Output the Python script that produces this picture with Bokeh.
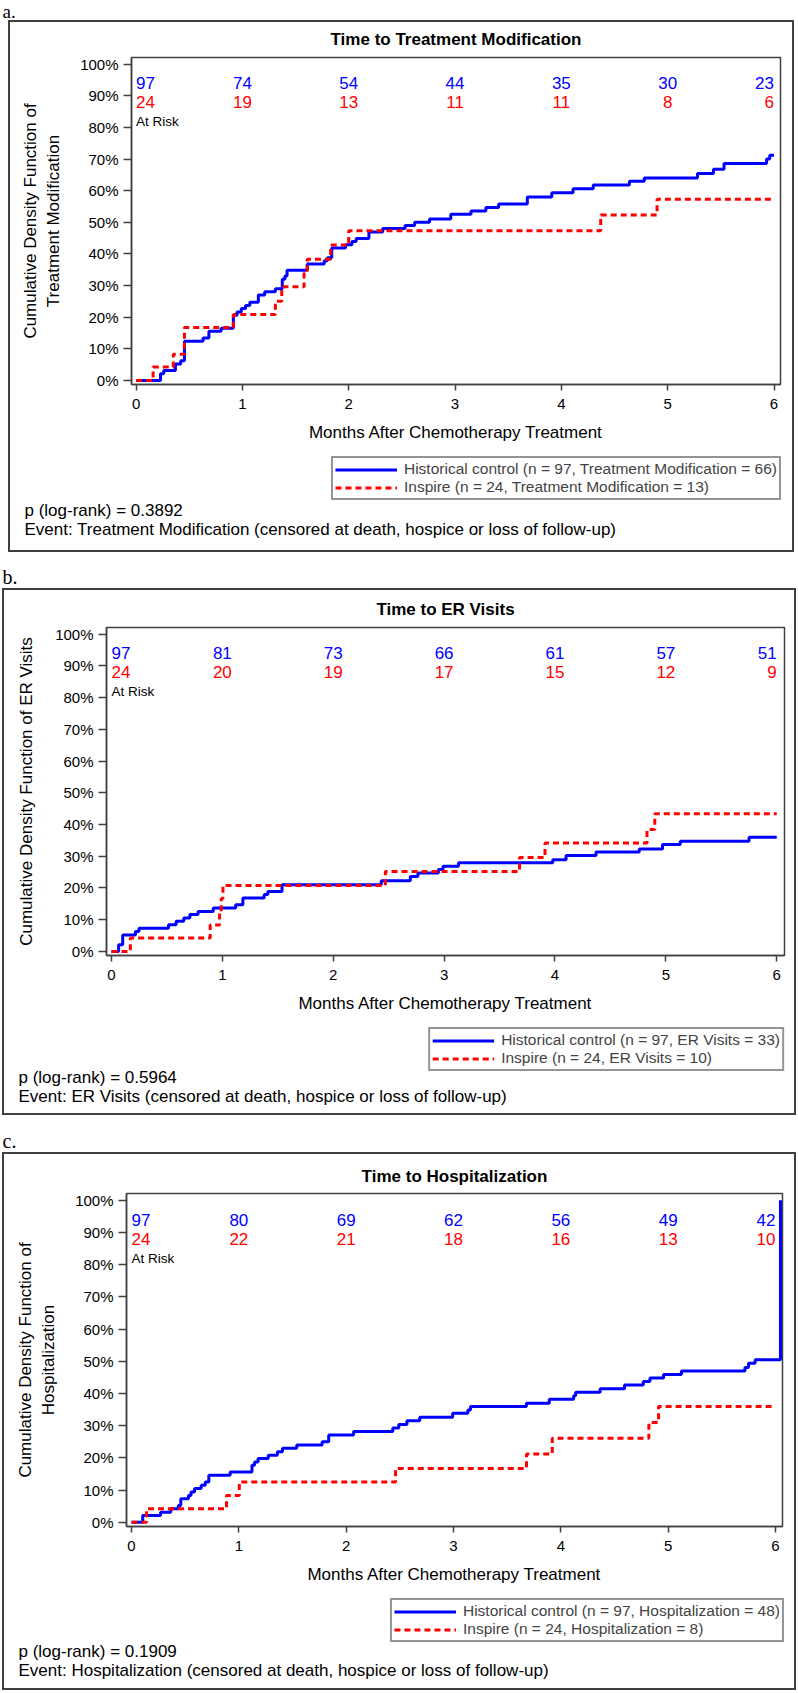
from bokeh.plotting import figure
from bokeh.layouts import column
from bokeh.models import Range1d, FixedTicker, NumeralTickFormatter, Label, Legend, LegendItem
from bokeh.core.properties import value
from bokeh.embed import file_html
from bokeh.resources import INLINE

# ---------------------------------------------------------------- ticks
month_ticks = [0, 1, 2, 3, 4, 5, 6]
pct_ticks = [0.0, 0.1, 0.2, 0.3, 0.4, 0.5, 0.6, 0.7, 0.8, 0.9, 1.0]

# ---------------------------------------------------------------- a. treatment modification
tm_hist_t = [0.23, 0.26, 0.37, 0.42, 0.455, 0.63, 0.685, 0.80, 0.915, 0.95,
             0.99, 1.03, 1.07, 1.15, 1.21, 1.31, 1.375, 1.40, 1.42, 1.61,
             1.77, 1.80, 1.84, 1.97, 2.03, 2.07, 2.19, 2.32, 2.53, 2.62,
             2.76, 2.96, 3.15, 3.29, 3.41, 3.68, 3.91, 4.11, 4.30, 4.64,
             4.78, 5.28, 5.43, 5.53, 5.93, 5.96]
tm_hist_cdf = [0.021, 0.031, 0.052, 0.062, 0.124, 0.134, 0.155, 0.165, 0.206, 0.216,
               0.227, 0.237, 0.247, 0.270, 0.280, 0.290, 0.320, 0.330, 0.348, 0.368,
               0.378, 0.388, 0.419, 0.429, 0.439, 0.449, 0.469, 0.480, 0.490, 0.500,
               0.510, 0.525, 0.536, 0.547, 0.558, 0.580, 0.593, 0.606, 0.618, 0.630,
               0.640, 0.654, 0.668, 0.686, 0.700, 0.712]
tm_hist_end = 6.0
tm_insp_t = [0.16, 0.35, 0.455, 0.915, 1.31, 1.37, 1.58, 1.61, 1.83, 2.00, 4.37, 4.90]
tm_insp_cdf = [0.042, 0.083, 0.167, 0.208, 0.250, 0.296, 0.339, 0.383, 0.428, 0.473, 0.523, 0.573]
tm_insp_end = 6.0
tm_risk_hist = [97, 74, 54, 44, 35, 30, 23]
tm_risk_insp = [24, 19, 13, 11, 11, 8, 6]

# ---------------------------------------------------------------- b. ER visits
er_hist_t = [0.064, 0.101, 0.216, 0.248, 0.514, 0.583, 0.652, 0.707, 0.781, 0.918,
             1.12, 1.185, 1.377, 1.41, 1.538, 2.433, 2.695, 2.764, 2.948, 2.99,
             3.13, 3.98, 4.10, 4.37, 4.76, 4.97, 5.13, 5.75]
er_hist_cdf = [0.021, 0.052, 0.063, 0.073, 0.084, 0.095, 0.105, 0.116, 0.126, 0.137,
               0.147, 0.168, 0.179, 0.189, 0.210, 0.223, 0.236, 0.247, 0.258, 0.268,
               0.279, 0.289, 0.302, 0.313, 0.323, 0.337, 0.347, 0.360]
er_hist_end = 6.0
er_insp_t = [0.17, 0.89, 0.975, 0.99, 1.005, 2.47, 3.68, 3.91, 4.83, 4.90]
er_insp_cdf = [0.042, 0.083, 0.125, 0.167, 0.208, 0.252, 0.296, 0.342, 0.384, 0.434]
er_insp_end = 6.0
er_risk_hist = [97, 81, 73, 66, 61, 57, 51]
er_risk_insp = [24, 20, 19, 17, 15, 12, 9]

# ---------------------------------------------------------------- c. hospitalization
hosp_hist_t = [0.104, 0.27, 0.365, 0.436, 0.459, 0.53, 0.554, 0.587, 0.649, 0.687,
               0.72, 0.919, 1.122, 1.146, 1.179, 1.274, 1.359, 1.406, 1.539, 1.776,
               1.837, 2.069, 2.434, 2.49, 2.566, 2.685, 2.992, 3.134, 3.158, 3.679,
               3.892, 4.119, 4.138, 4.366, 4.593, 4.768, 4.83, 4.957, 5.123, 5.715,
               5.748, 5.81, 6.046]
hosp_hist_cdf = [0.021, 0.031, 0.042, 0.052, 0.073, 0.083, 0.094, 0.105, 0.115, 0.125,
                 0.146, 0.156, 0.177, 0.187, 0.198, 0.208, 0.219, 0.230, 0.240, 0.250,
                 0.271, 0.282, 0.293, 0.304, 0.315, 0.326, 0.339, 0.349, 0.360, 0.370,
                 0.382, 0.393, 0.404, 0.415, 0.426, 0.437, 0.448, 0.459, 0.470, 0.481,
                 0.494, 0.505, 1.0]
hosp_hist_end = 6.046
hosp_insp_t = [0.14, 0.885, 1.004, 2.46, 3.68, 3.92, 4.82, 4.91]
hosp_insp_cdf = [0.042, 0.083, 0.125, 0.167, 0.212, 0.261, 0.310, 0.360]
hosp_insp_end = 5.975
hosp_risk_hist = [97, 80, 69, 62, 56, 49, 42]
hosp_risk_insp = [24, 22, 21, 18, 16, 13, 10]

# ---------------------------------------------------------------- styling
SANS = "Liberation Sans"
SERIF = "Liberation Serif"
BLUE = "#0000FF"
RED = "#FF0000"
FRAME = "#404040"
BOX = "#404040"
LEGEND_EDGE = "#2a2a2a"
Y_RANGE = (-0.013, 1.021)
HIST_STYLE = dict(line_color=BLUE, line_width=3)
INSP_STYLE = dict(line_color=RED, line_width=3, line_dash="6 4")


def step_xy(times, cdf, end):
    return [0.0] + list(times) + [end], [0.0] + list(cdf) + [cdf[-1]]


def pixel_canvas(width, height, border_right=0):
    """A bare figure whose data units are pixels measured from its top-left corner."""
    f = figure(width=width, height=height, title=None,
               x_range=Range1d(0, width - border_right), y_range=Range1d(height, 0),
               x_axis_type=None, y_axis_type=None, toolbar_location=None,
               output_backend="svg", min_border=0, min_border_left=0, min_border_top=0,
               min_border_bottom=0, min_border_right=border_right,
               outline_line_color=None, frame_align=False,
               background_fill_color="white", border_fill_color="white")
    f.grid.visible = False
    return f


def letter_strip(letter, height, mid, size):
    s = pixel_canvas(798, height)
    s.add_layout(Label(x=2, y=mid, text=letter, text_font=SERIF, text_font_size=size,
                       text_baseline="middle", text_align="left", text_color="black"))
    return s


def chart(cfg):
    x0, x1 = cfg["xr"]
    y0, y1 = Y_RANGE
    fw = cfg["w"] - cfg["bl"] - cfg["br"]

    # title strip above the plotting frame
    t = pixel_canvas(cfg["w"], cfg["bt"] - 2)
    t.add_layout(Label(x=cfg["bl"] + fw / 2, y=cfg["title_y"], text=cfg["title"],
                       text_font=SANS, text_font_size="17px", text_font_style="bold",
                       text_color="black", text_align="center", text_baseline="middle"))

    p = figure(width=cfg["w"], height=cfg["h_top"] - cfg["bt"] + 2, title=None,
               x_range=Range1d(x0, x1), y_range=Range1d(y0, y1),
               min_border_left=cfg["bl"], min_border_right=cfg["br"],
               min_border_top=2, min_border_bottom=cfg["bb"],
               toolbar_location=None, output_backend="svg", frame_align=False,
               background_fill_color="white", border_fill_color="white",
               outline_line_color=FRAME, outline_line_width=1.5)
    p.grid.visible = False

    for ax in (p.xaxis[0], p.yaxis[0]):
        ax.axis_line_color = FRAME
        ax.axis_line_width = 1.5
        ax.major_tick_line_color = FRAME
        ax.major_tick_line_width = 1.5
        ax.major_tick_in = 0
        ax.minor_tick_line_color = None
        ax.major_label_text_font = SANS
        ax.major_label_text_font_size = "15px"
        ax.major_label_text_color = "black"
        ax.axis_label_text_font = SANS
        ax.axis_label_text_font_size = "17px"
        ax.axis_label_text_font_style = "normal"
        ax.axis_label_text_color = "black"

    p.xaxis.ticker = FixedTicker(ticks=month_ticks)
    p.xaxis.major_tick_out = 6
    p.xaxis.major_label_standoff = 8
    p.xaxis.axis_label = "Months After Chemotherapy Treatment"
    p.xaxis.axis_label_standoff = 11

    p.yaxis.ticker = FixedTicker(ticks=pct_ticks)
    p.yaxis.formatter = NumeralTickFormatter(format="0%")
    p.yaxis.major_tick_out = 8
    p.yaxis.major_label_standoff = 5
    p.yaxis.axis_label = cfg["ylabel"]
    p.yaxis.axis_label_standoff = cfg["ylab_standoff"]

    hx, hy = step_xy(cfg["hist_t"], cfg["hist_cdf"], cfg["hist_end"])
    ix, iy = step_xy(cfg["insp_t"], cfg["insp_cdf"], cfg["insp_end"])
    p.step(hx, hy, mode="after", **HIST_STYLE)
    p.step(ix, iy, mode="after", **INSP_STYLE)

    # numbers at risk: first left-aligned, middle centred, last right-aligned
    for counts, yv, col in ((cfg["risk_hist"], 0.94, BLUE), (cfg["risk_insp"], 0.88, RED)):
        labels = [str(c) for c in counts]
        groups = ((month_ticks[:1], labels[:1], "left"),
                  (month_ticks[1:-1], labels[1:-1], "center"),
                  (month_ticks[-1:], labels[-1:], "right"))
        for xs, ts, al in groups:
            p.text(x=xs, y=[yv] * len(xs), text=ts, text_font=value(SANS),
                   text_font_size="17px", text_color=col, text_align=al,
                   text_baseline="middle")
    p.text(x=[0], y=[0.82], text=["At Risk"], text_font=value(SANS), text_font_size="13.5px",
           text_color="black", text_align="left", text_baseline="middle")

    # legend and footnotes live in a pixel-unit strip under the chart; the legend
    # keys are one-point lines (nothing visible) styled like the two curves
    b = pixel_canvas(cfg["w"], cfg["h_bot"], border_right=cfg["leg_right"])
    k_hist = b.line(x=hx[:1], y=hy[:1], **HIST_STYLE)
    k_insp = b.line(x=ix[:1], y=iy[:1], **INSP_STYLE)
    legend = Legend(items=[LegendItem(label=cfg["leg_hist"], renderers=[k_hist]),
                           LegendItem(label=cfg["leg_insp"], renderers=[k_insp])],
                    location="top_right", orientation="vertical",
                    border_line_color=LEGEND_EDGE, border_line_width=2,
                    background_fill_color="white", background_fill_alpha=1.0,
                    padding=2, margin=3, spacing=0,
                    label_text_font=SANS, label_text_font_size="15.5px",
                    glyph_width=62, glyph_height=17, label_height=17, label_standoff=7)
    b.add_layout(legend)
    for txt, yy in ((cfg["pval"], cfg["foot_y"][0]), (cfg["event"], cfg["foot_y"][1])):
        b.add_layout(Label(x=14, y=yy, text=txt, text_font=SANS, text_font_size="17px",
                           text_color="black", text_align="left", text_baseline="middle"))

    return column(t, p, b, width=cfg["w"], height=cfg["h_top"] + cfg["h_bot"],
                  margin=(cfg["mt"], 0, 2, cfg["ml"]), styles={"outline": "2px solid " + BOX})


panels = [
    dict(title="Time to Treatment Modification",
         ylabel="Cumulative Density Function of\nTreatment Modification",
         hist_t=tm_hist_t, hist_cdf=tm_hist_cdf, hist_end=tm_hist_end,
         insp_t=tm_insp_t, insp_cdf=tm_insp_cdf, insp_end=tm_insp_end,
         risk_hist=tm_risk_hist, risk_insp=tm_risk_insp,
         leg_hist="Historical control (n = 97, Treatment Modification = 66)",
         leg_insp="Inspire (n = 24, Treatment Modification = 13)",
         pval="p (log-rank) = 0.3892",
         event="Event: Treatment Modification (censored at death, hospice or loss of follow-up)",
         xr=(-0.043, 6.061), w=782, h_top=431, h_bot=97, bl=121, br=12, bt=35, bb=69,
         title_y=17, ml=10, mt=0, ylab_standoff=14, leg_right=8, foot_y=(57, 76)),
    dict(title="Time to ER Visits",
         ylabel="Cumulative Density Function of ER Visits",
         hist_t=er_hist_t, hist_cdf=er_hist_cdf, hist_end=er_hist_end,
         insp_t=er_insp_t, insp_cdf=er_insp_cdf, insp_end=er_insp_end,
         risk_hist=er_risk_hist, risk_insp=er_risk_insp,
         leg_hist="Historical control (n = 97, ER Visits = 33)",
         leg_insp="Inspire (n = 24, ER Visits = 10)",
         pval="p (log-rank) = 0.5964",
         event="Event: ER Visits (censored at death, hospice or loss of follow-up)",
         xr=(-0.045, 6.07), w=790, h_top=434, h_bot=89, bl=102, br=10, bt=37, bb=69,
         title_y=19, ml=4, mt=2, ylab_standoff=16, leg_right=7, foot_y=(53, 72)),
    dict(title="Time to Hospitalization",
         ylabel="Cumulative Density Function of\nHospitalization",
         hist_t=hosp_hist_t, hist_cdf=hosp_hist_cdf, hist_end=hosp_hist_end,
         insp_t=hosp_insp_t, insp_cdf=hosp_insp_cdf, insp_end=hosp_insp_end,
         risk_hist=hosp_risk_hist, risk_insp=hosp_risk_insp,
         leg_hist="Historical control (n = 97, Hospitalization = 48)",
         leg_insp="Inspire (n = 24, Hospitalization = 8)",
         pval="p (log-rank) = 0.1909",
         event="Event: Hospitalization (censored at death, hospice or loss of follow-up)",
         xr=(-0.047, 6.065), w=790, h_top=441, h_bot=93, bl=122, br=12, bt=39, bb=69,
         title_y=22, ml=4, mt=2, ylab_standoff=14, leg_right=7, foot_y=(56, 75)),
]

page = column(
    letter_strip("a.", 22, 11, "19px"),
    chart(panels[0]),
    letter_strip("b.", 36, 24, "20px"),
    chart(panels[1]),
    letter_strip("c.", 37, 25, "20px"),
    chart(panels[2]),
)

open("out.html", "w").write(file_html(page, INLINE))
